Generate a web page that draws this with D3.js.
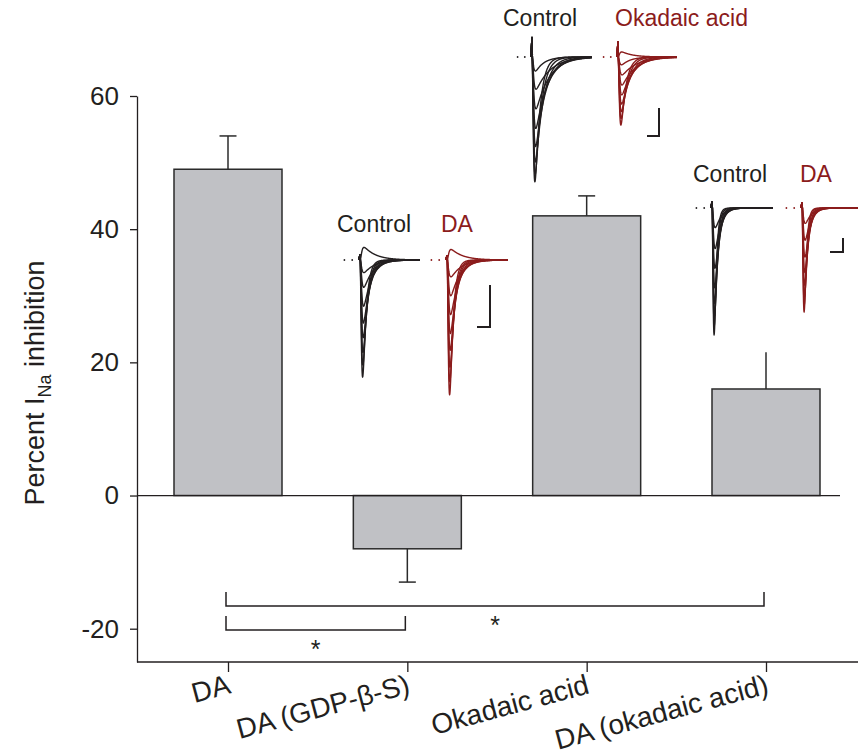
<html>
<head>
<meta charset="utf-8">
<title></title>
<style>
body { margin: 0; background: #fff; }
text { font-family: "Liberation Sans", Arial, sans-serif; fill: #231f20; }
</style>
</head>
<body>
<script src="https://cdn.jsdelivr.net/npm/d3@7"></script>
<script>
// bar chart data
var categories = ["DA", "DA (GDP-\u03b2-S)", "Okadaic acid", "DA (okadaic acid)"];
var means = [49, -8, 42, 16];
var errors = [5, 5, 3, 5.5];
var errorCaps = [true, true, true, false];
var yTicks = [-20, 0, 20, 40, 60];
// significance brackets: [from, to, level]
var brackets = [[0, 3, -16.6], [0, 1, -20.2]];

// inset current traces (nA), one value per sweep; tau = inactivation (ms)
var gdpCtrlAmp = [2.79, 2.5, 2.2, 1.85, 1.5, 1.1, 0.65, 0.3, -0.3];
var gdpDaAmp = [3.21, 2.9, 2.55, 2.15, 1.75, 1.3, 0.85, 0.4, -0.25];
var gdpTau = [0.25, 0.3, 0.35, 0.42, 0.5, 0.6, 0.7, 0.8, 0.9];
var okCtrlAmp = [4.46, 4.2, 3.75, 3.2, 2.55, 1.85, 1.15, 0.5];
var okOaAmp = [2.43, 2.2, 1.95, 1.68, 1.35, 1.0, 0.64, 0.28, -0.18];
var okTau = [0.4, 0.5, 0.65, 0.8, 0.95, 1.1, 1.2, 0.7, 0.9];
var daokCtrlAmp = [9.07, 8.4, 7.7, 6.8, 5.7, 4.3, 2.9, 1.4];
var daokDaAmp = [7.43, 6.9, 6.3, 5.5, 4.6, 3.5, 2.3, 1.1];
var daokTau = [0.15, 0.18, 0.22, 0.26, 0.3, 0.35, 0.4, 0.45];
var capCtrl = [0.12, 0.7, 0.43];
var capDrug = [0.1, 0.54, 0.36];

var red = "#8b1c1c";
var ink = "#231f20";

var svg = d3.select("body").append("svg")
    .attr("width", 858).attr("height", 755);

var x = d3.scalePoint().domain(categories).range([228, 766]);
var y = d3.scaleLinear().domain([-25, 60]).range([662, 96]);
var barW = 108;

// bars
svg.selectAll("rect.bar")
    .data(means)
    .enter()
    .append("rect")
    .attr("x", function(d, i){ return x(categories[i]) - barW / 2; })
    .attr("y", function(d){ return y(Math.max(0, d)); })
    .attr("width", barW)
    .attr("height", function(d){ return Math.abs(y(d) - y(0)); })
    .attr("fill", "#c0c1c5")
    .attr("stroke", "#2b2b2b")
    .attr("stroke-width", 1.5);

// error bars (away from zero)
means.forEach(function(m, i){
    var cx = x(categories[i]);
    var tip = m >= 0 ? m + errors[i] : m - errors[i];
    svg.append("line")
        .attr("x1", cx).attr("x2", cx)
        .attr("y1", y(m)).attr("y2", y(tip))
        .attr("stroke", "#2b2b2b").attr("stroke-width", 1.5);
    if (errorCaps[i]) {
        svg.append("line")
            .attr("x1", cx - 8.5).attr("x2", cx + 8.5)
            .attr("y1", y(tip)).attr("y2", y(tip))
            .attr("stroke", "#2b2b2b").attr("stroke-width", 1.5);
    }
});

// zero line
svg.append("line")
    .attr("x1", 137).attr("x2", 840)
    .attr("y1", y(0)).attr("y2", y(0))
    .attr("stroke", ink).attr("stroke-width", 1.3);

// y axis
var yAxis = d3.axisLeft(y)
    .tickValues(yTicks)
    .tickSize(7)
    .tickSizeOuter(0)
    .tickPadding(11)
    .tickFormat(function(d){ return String(d); });
var gy = svg.append("g").attr("transform", "translate(137,0)").call(yAxis);
gy.attr("font-size", 26);
gy.select(".domain").attr("stroke", ink).attr("stroke-width", 1.3);
gy.selectAll(".tick line").attr("stroke", ink).attr("stroke-width", 1.3);
gy.selectAll("text").attr("font-size", 26).attr("fill", ink)
    .style("font-family", "'Liberation Sans', Arial, sans-serif");

// x axis
var xAxis = d3.axisBottom(x).tickSize(10).tickSizeOuter(0).tickFormat("");
var gx = svg.append("g").attr("transform", "translate(0,662)").call(xAxis);
gx.select(".domain").remove();
gx.selectAll(".tick line").attr("stroke", ink).attr("stroke-width", 1.3);
svg.append("line")
    .attr("x1", 137).attr("x2", 858)
    .attr("y1", 662).attr("y2", 662)
    .attr("stroke", ink).attr("stroke-width", 1.3);

svg.selectAll("text.xlab")
    .data(categories)
    .enter()
    .append("text")
    .attr("class", "xlab")
    .attr("text-anchor", "end")
    .attr("font-size", 28)
    .attr("transform", function(d){ return "translate(" + (x(d) + 4) + ",693) rotate(-15)"; })
    .text(function(d){ return d; });

// y label
var yl = svg.append("text")
    .attr("text-anchor", "middle")
    .attr("font-size", 27)
    .attr("transform", "translate(44,383) rotate(-90)");
yl.append("tspan").text("Percent I");
yl.append("tspan").attr("font-size", 18).attr("dy", 7).text("Na");
yl.append("tspan").attr("dy", -7).text(" inhibition");

// significance brackets
brackets.forEach(function(b){
    var xa = x(categories[b[0]]) - 2, xb = x(categories[b[1]]) - 2;
    var yb = y(b[2]), up = 14;
    svg.append("path")
        .attr("d", "M" + xa + "," + (yb - up) + "V" + yb + "H" + xb + "V" + (yb - up))
        .attr("fill", "none").attr("stroke", ink).attr("stroke-width", 1.5);
    svg.append("text")
        .attr("x", (xa + xb) / 2).attr("y", yb + 28)
        .attr("text-anchor", "middle").attr("font-size", 25)
        .text("*");
});

// insets
var insets = [
    { drugName: "DA", labelY: 232, ctrlLabelX: 337, drugLabelX: 441, base: 260, pxMs: 13, pxNA: 42,
      ctrl: [360, 420], drug: [447, 508], bar: [490, 327],
      ctrlAmp: gdpCtrlAmp, drugAmp: gdpDaAmp, tau: gdpTau },
    { drugName: "Okadaic acid", labelY: 26, ctrlLabelX: 503, drugLabelX: 615, base: 57, pxMs: 12, pxNA: 28,
      ctrl: [532, 592], drug: [618, 677], bar: [659, 136],
      ctrlAmp: okCtrlAmp, drugAmp: okOaAmp, tau: okTau },
    { drugName: "DA", labelY: 182, ctrlLabelX: 693, drugLabelX: 800, base: 208, pxMs: 13, pxNA: 14,
      ctrl: [712, 773], drug: [802, 858], bar: [843, 252],
      ctrlAmp: daokCtrlAmp, drugAmp: daokDaAmp, tau: daokTau }
];

var tm = 0.09;
function sweep(amp, th, cap, T) {
    var ts = d3.range(0.04, T, 0.02);
    var raw = ts.map(function(t){ return Math.pow(1 - Math.exp(-t / tm), 3) * Math.exp(-t / th); });
    var mx = d3.max(raw);
    var pts = [[-0.1, 0], [0, cap], [0.03, 0]];
    ts.forEach(function(t, k){ pts.push([t, -amp * raw[k] / mx]); });
    return pts;
}

insets.forEach(function(ins, n){
    svg.append("text").attr("x", ins.ctrlLabelX).attr("y", ins.labelY)
        .attr("font-size", 23).text("Control");
    svg.append("text").attr("x", ins.drugLabelX).attr("y", ins.labelY)
        .attr("font-size", 23).style("fill", red).text(ins.drugName);

    [[ins.ctrl, ins.ctrlAmp, capCtrl[n], ink], [ins.drug, ins.drugAmp, capDrug[n], red]].forEach(function(f){
        var span = f[0];
        var T = (span[1] - span[0]) / ins.pxMs;
        var tx = d3.scaleLinear().domain([0, T]).range([span[0], span[1]]);
        var ty = d3.scaleLinear().domain([0, -1]).range([ins.base, ins.base + ins.pxNA]);
        var line = d3.line().x(function(p){ return tx(p[0]); }).y(function(p){ return ty(p[1]); });
        var g = svg.append("g");
        g.selectAll("path")
            .data(f[1])
            .enter()
            .append("path")
            .attr("d", function(a, i){ return line(sweep(a, ins.tau[i], f[2], T)); })
            .attr("fill", "none")
            .attr("stroke", f[3])
            .attr("stroke-width", 1.4)
            .attr("stroke-linejoin", "round");
        g.selectAll("circle")
            .data([-1.2, -0.6])
            .enter()
            .append("circle")
            .attr("cx", function(t){ return tx(t); })
            .attr("cy", ins.base)
            .attr("r", 0.9)
            .attr("fill", f[3]);
    });

    // scale bar: 1 nA / 1 ms
    var bx = ins.bar[0], by = ins.bar[1];
    svg.append("path")
        .attr("d", "M" + bx + "," + (by - ins.pxNA) + "V" + by + "H" + (bx - ins.pxMs))
        .attr("fill", "none").attr("stroke", ink).attr("stroke-width", 2);
});
</script>
</body>
</html>
